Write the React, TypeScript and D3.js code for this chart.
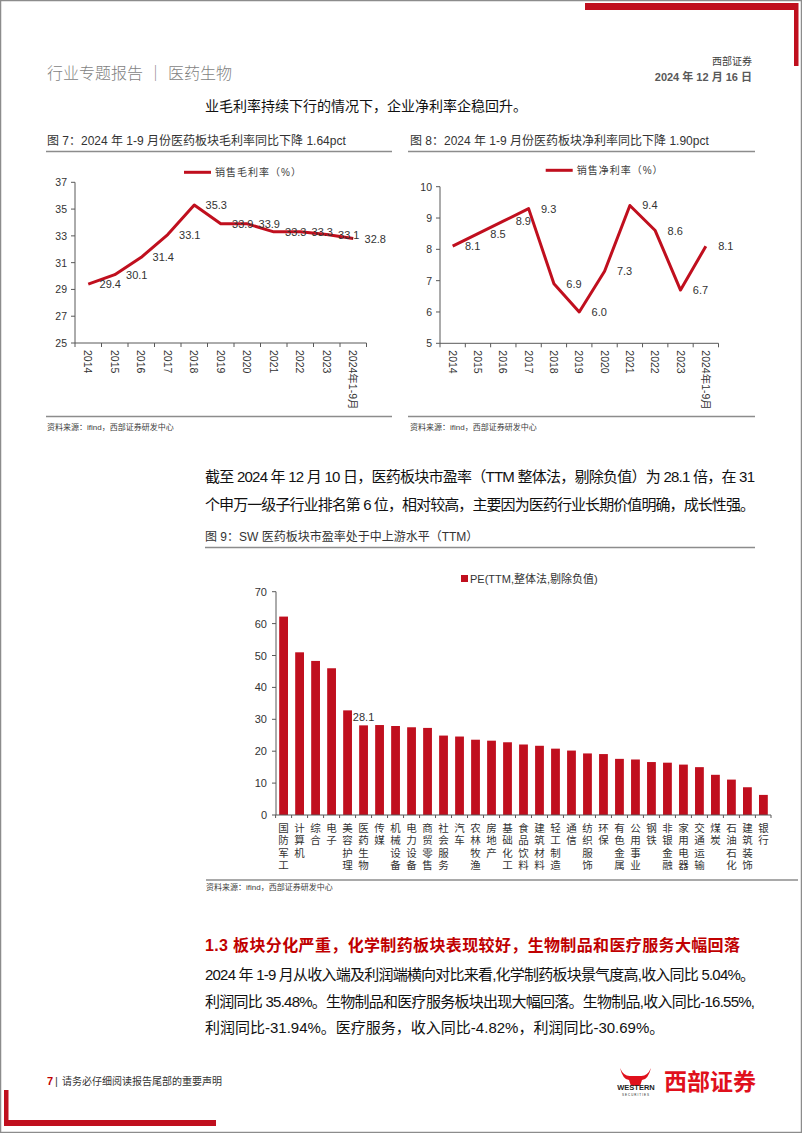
import React from 'react';
import * as d3 from 'd3';

const years = ['2014', '2015', '2016', '2017', '2018', '2019', '2020', '2021', '2022', '2023', '2024年1-9月'];
const grossMargin = [29.4, 30.1, 31.4, 33.1, 35.3, 33.9, 33.9, 33.3, 33.3, 33.1, 32.8];
const netMargin = [8.1, 8.5, 8.9, 9.3, 6.9, 6.0, 7.3, 9.4, 8.6, 6.7, 8.1];
const grossTicks = [25, 27, 29, 31, 33, 35, 37];
const netTicks = [5, 6, 7, 8, 9, 10];

const industries = ['国防军工', '计算机', '综合', '电子', '美容护理', '医药生物', '传媒', '机械设备', '电力设备', '商贸零售', '社会服务', '汽车', '农林牧渔', '房地产', '基础化工', '食品饮料', '建筑材料', '轻工制造', '通信', '纺织服饰', '环保', '有色金属', '公用事业', '钢铁', '非银金融', '家用电器', '交通运输', '煤炭', '石油石化', '建筑装饰', '银行'];
const peValues = [62.2, 51.0, 48.3, 46.0, 32.8, 28.1, 28.2, 27.9, 27.5, 27.3, 24.9, 24.6, 23.6, 23.3, 22.8, 22.1, 21.7, 20.8, 20.2, 19.3, 19.1, 17.6, 17.4, 16.6, 16.4, 15.8, 15.0, 12.6, 11.1, 8.7, 6.3];
const peTicks = [0, 10, 20, 30, 40, 50, 60, 70];
const highlightIndustry = '医药生物';

const RED = '#C00F1E';
const AX = '#595959';
const TXT = '#333333';
const LAT = "'Liberation Sans', Arial, 'Noto Sans CJK SC', sans-serif";
const CJK = "'Liberation Sans', 'Noto Sans CJK SC', sans-serif";

type LineProps = {
  x0: number; x1: number; yTop: number; yBot: number;
  domain: [number, number]; ticks: number[]; data: number[];
  legendX: number; legendY: number; legendText: string; labelDx: number;
};

function LineChart(p: LineProps) {
  const x = d3.scaleBand<string>().domain(years).range([p.x0, p.x1]).padding(0);
  const y = d3.scaleLinear().domain(p.domain).range([p.yBot, p.yTop]);
  const cx = (i: number) => (x(years[i]) as number) + x.bandwidth() / 2;
  const line = d3.line<number>().x((_, i) => cx(i)).y((d) => y(d));
  const bounds = years.map((yr) => x(yr) as number).concat([p.x1]);
  return (
    <g>
      <line x1={p.legendX} x2={p.legendX + 27} y1={p.legendY} y2={p.legendY} stroke={RED} strokeWidth={3} />
      <text x={p.legendX + 31} y={p.legendY} dominantBaseline="central" fontSize={10} fill="#404040" fontFamily={CJK} letterSpacing={1}>{p.legendText}</text>
      <line x1={p.x0} x2={p.x0} y1={y(p.domain[1])} y2={p.yBot} stroke={AX} strokeWidth={1} />
      {p.ticks.map((t) => (
        <g key={t}>
          <line x1={p.x0 - 4} x2={p.x0} y1={y(t)} y2={y(t)} stroke={AX} />
          <text x={p.x0 - 8} y={y(t)} textAnchor="end" dominantBaseline="central" fontSize={10.5} fill={TXT} fontFamily={LAT}>{t}</text>
        </g>
      ))}
      <line x1={p.x0} x2={p.x1} y1={p.yBot} y2={p.yBot} stroke={AX} />
      {bounds.map((b, i) => (
        <line key={i} x1={b} x2={b} y1={p.yBot} y2={p.yBot + 4} stroke={AX} />
      ))}
      {years.map((yr, i) => (
        <text key={yr} transform={`translate(${cx(i)},${p.yBot + 7}) rotate(90)`} dominantBaseline="central" fontSize={10.5} fill={TXT} fontFamily={CJK}>{yr}</text>
      ))}
      <path d={line(p.data) || ''} fill="none" stroke={RED} strokeWidth={3} strokeLinejoin="round" />
      {p.data.map((v, i) => (
        <text key={i} x={cx(i) + p.labelDx} y={y(v)} textAnchor="middle" dominantBaseline="central" fontSize={11} fill={TXT} fontFamily={LAT}>{v.toFixed(1)}</text>
      ))}
    </g>
  );
}

function BarChart() {
  const x = d3.scaleBand<string>().domain(industries).range([276, 771]).paddingInner(0.45).paddingOuter(0.2);
  const y = d3.scaleLinear().domain([0, 70]).range([815, 591.7]);
  const step = x.step();
  const bounds = industries.map((c) => (x(c) as number) - step * 0.225);
  return (
    <g>
      <rect x={461} y={575} width={7} height={7} fill={RED} />
      <text x={470} y={579} dominantBaseline="central" fontSize={11} fill={TXT} fontFamily={CJK}>PE(TTM,整体法,剔除负值)</text>
      {industries.map((c, i) => (
        <rect key={c} x={x(c)} y={y(peValues[i])} width={x.bandwidth()} height={y(0) - y(peValues[i])} fill={RED} />
      ))}
      <line x1={276} x2={276} y1={y(70)} y2={y(0)} stroke={AX} />
      {peTicks.map((t) => (
        <g key={t}>
          <line x1={272} x2={276} y1={y(t)} y2={y(t)} stroke={AX} />
          <text x={267} y={y(t)} textAnchor="end" dominantBaseline="central" fontSize={11} fill={TXT} fontFamily={LAT}>{t}</text>
        </g>
      ))}
      <line x1={276} x2={771} y1={y(0)} y2={y(0)} stroke={AX} />
      {bounds.concat([771]).map((b, i) => (
        <line key={i} x1={b} x2={b} y1={y(0)} y2={y(0) + 3} stroke={AX} />
      ))}
      {industries.map((c) => (
        <text key={c} x={(x(c) as number) + x.bandwidth() / 2} y={828} textAnchor="middle" fontSize={10.5} fill={TXT} fontFamily={CJK}>
          {c.split('').map((ch, j) => (
            <tspan key={j} x={(x(c) as number) + x.bandwidth() / 2} y={828 + j * 12.4} dominantBaseline="central">{ch}</tspan>
          ))}
        </text>
      ))}
      {industries.map((c, i) => c === highlightIndustry ? (
        <text key={'l' + c} x={(x(c) as number) + x.bandwidth() / 2} y={y(peValues[i]) - 4} textAnchor="middle" fontSize={11} fill={TXT} fontFamily={LAT}>{peValues[i].toFixed(1)}</text>
      ) : null)}
    </g>
  );
}

function Logo() {
  return (
    <g>
      <path d="M620,1068 Q624,1077 631,1076 L640,1076 Q647,1077 651,1068 Q648,1080 642,1080 L640,1086 L631,1086 L629,1080 Q623,1080 620,1068 Z" fill="#E0101C" />
      <text x={636} y={1090} textAnchor="middle" fontSize={7.5} fontWeight="bold" fill="#222" fontFamily={LAT}>WESTERN</text>
      <text x={636} y={1095.5} textAnchor="middle" fontSize={3} fill="#222" fontFamily={LAT} letterSpacing={1}>SECURITIES</text>
      <text x={664} y={1090} fontSize={23} fontWeight="bold" fill="#E0101C" fontFamily="'Noto Sans CJK SC', sans-serif">西部证券</text>
    </g>
  );
}

export default function App() {
  return (
    <svg width={802} height={1133} style={{ position: 'absolute', left: 0, top: 0, background: '#fff' }}>
      <rect x={0} y={0} width={802} height={1133} fill="#fff" />
      <rect x={0.5} y={0.5} width={801} height={1132} fill="none" stroke="#8c8c8c" strokeWidth={1.5} />
      {/* decorations */}
      <rect x={585} y={3} width={213} height={7} fill="#C00F1E" />
      <rect x={794} y={3} width={4.5} height={63} fill="#C00F1E" />
      <rect x={4} y={1090} width={4.5} height={36} fill="#C00F1E" />
      <rect x={4} y={1120} width={212} height={6} fill="#C00F1E" />

      {/* header */}
      <text x={47} y={79} fontSize={16} fill="#7f7f7f" fontFamily={CJK} fontWeight={300}>行业专题报告 ｜ 医药生物</text>
      <text x={752} y={65} textAnchor="end" fontSize={10} fill="#404040" fontFamily={CJK}>西部证券</text>
      <text x={752} y={81} textAnchor="end" fontSize={11} fontWeight="bold" fill="#595959" fontFamily={CJK}>2024 年 12 月 16 日</text>

      <text x={205} y={111} fontSize={14} fill="#111" fontFamily={CJK}>业毛利率持续下行的情况下，企业净利率企稳回升。</text>

      {/* chart titles */}
      <text x={47} y={145} fontSize={12} fill={TXT} fontFamily={CJK}>图 7：2024 年 1-9 月份医药板块毛利率同比下降 1.64pct</text>
      <text x={410} y={145} fontSize={12} fill={TXT} fontFamily={CJK}>图 8：2024 年 1-9 月份医药板块净利率同比下降 1.90pct</text>
      <line x1={46} x2={392} y1={151.5} y2={151.5} stroke="#8c8c8c" strokeWidth={1.5} />
      <line x1={408} x2={755} y1={151.5} y2={151.5} stroke="#8c8c8c" strokeWidth={1.5} />

      <LineChart x0={75} x1={366.5} yTop={182.3} yBot={343} domain={[25, 37]} ticks={grossTicks} data={grossMargin}
        legendX={184} legendY={172.3} legendText="销售毛利率（%）" labelDx={22} />
      <LineChart x0={440} x1={718.5} yTop={186.7} yBot={343.3} domain={[5, 10]} ticks={netTicks} data={netMargin}
        legendX={545.7} legendY={170.3} legendText="销售净利率（%）" labelDx={20} />

      <line x1={46} x2={392} y1={416.5} y2={416.5} stroke="#8c8c8c" strokeWidth={1.5} />
      <line x1={408} x2={755} y1={416.5} y2={416.5} stroke="#8c8c8c" strokeWidth={1.5} />
      <text x={47} y={430} fontSize={8} fill="#404040" fontFamily={CJK}>资料来源：ifind，西部证券研发中心</text>
      <text x={410} y={430} fontSize={8} fill="#404040" fontFamily={CJK}>资料来源：ifind，西部证券研发中心</text>

      {/* paragraph */}
      <text x={205} y={482} fontSize={15} fill="#111" fontFamily={CJK} textLength={550} lengthAdjust="spacing">截至 2024 年 12 月 10 日，医药板块市盈率（TTM 整体法，剔除负值）为 28.1 倍，在 31</text>
      <text x={205} y={510} fontSize={15} fill="#111" fontFamily={CJK} textLength={550} lengthAdjust="spacing">个申万一级子行业排名第 6 位，相对较高，主要因为医药行业长期价值明确，成长性强。</text>

      <text x={205} y={541} fontSize={12} fill={TXT} fontFamily={CJK}>图 9：SW 医药板块市盈率处于中上游水平（TTM）</text>
      <line x1={205} x2={755} y1={547.5} y2={547.5} stroke="#8c8c8c" strokeWidth={1.5} />

      <BarChart />

      <line x1={206} x2={798} y1={880} y2={880} stroke="#8c8c8c" strokeWidth={1.5} />
      <text x={206} y={890} fontSize={8} fill="#404040" fontFamily={CJK}>资料来源：ifind，西部证券研发中心</text>

      {/* section */}
      <text x={205} y={951} fontSize={16} fontWeight="bold" fill="#C00000" fontFamily={CJK} textLength={535} lengthAdjust="spacing">1.3 板块分化严重，化学制药板块表现较好，生物制品和医疗服务大幅回落</text>
      <text x={205} y={980} fontSize={15} fill="#111" fontFamily={CJK} textLength={550} lengthAdjust="spacing">2024 年 1-9 月从收入端及利润端横向对比来看,化学制药板块景气度高,收入同比 5.04%。</text>
      <text x={205} y={1007} fontSize={15} fill="#111" fontFamily={CJK} textLength={550} lengthAdjust="spacing">利润同比 35.48%。生物制品和医疗服务板块出现大幅回落。生物制品,收入同比-16.55%,</text>
      <text x={205} y={1033} fontSize={15} fill="#111" fontFamily={CJK}>利润同比-31.94%。医疗服务，收入同比-4.82%，利润同比-30.69%。</text>

      {/* footer */}
      <text x={47} y={1085} fontSize={11} fontWeight="bold" fill="#C00000" fontFamily={LAT}>7</text>
      <text x={55} y={1085} fontSize={11} fill="#404040" fontFamily={LAT}>|</text>
      <text x={62} y={1085} fontSize={10} fill="#333" fontFamily={CJK}>请务必仔细阅读报告尾部的重要声明</text>
      <Logo />
    </svg>
  );
}
